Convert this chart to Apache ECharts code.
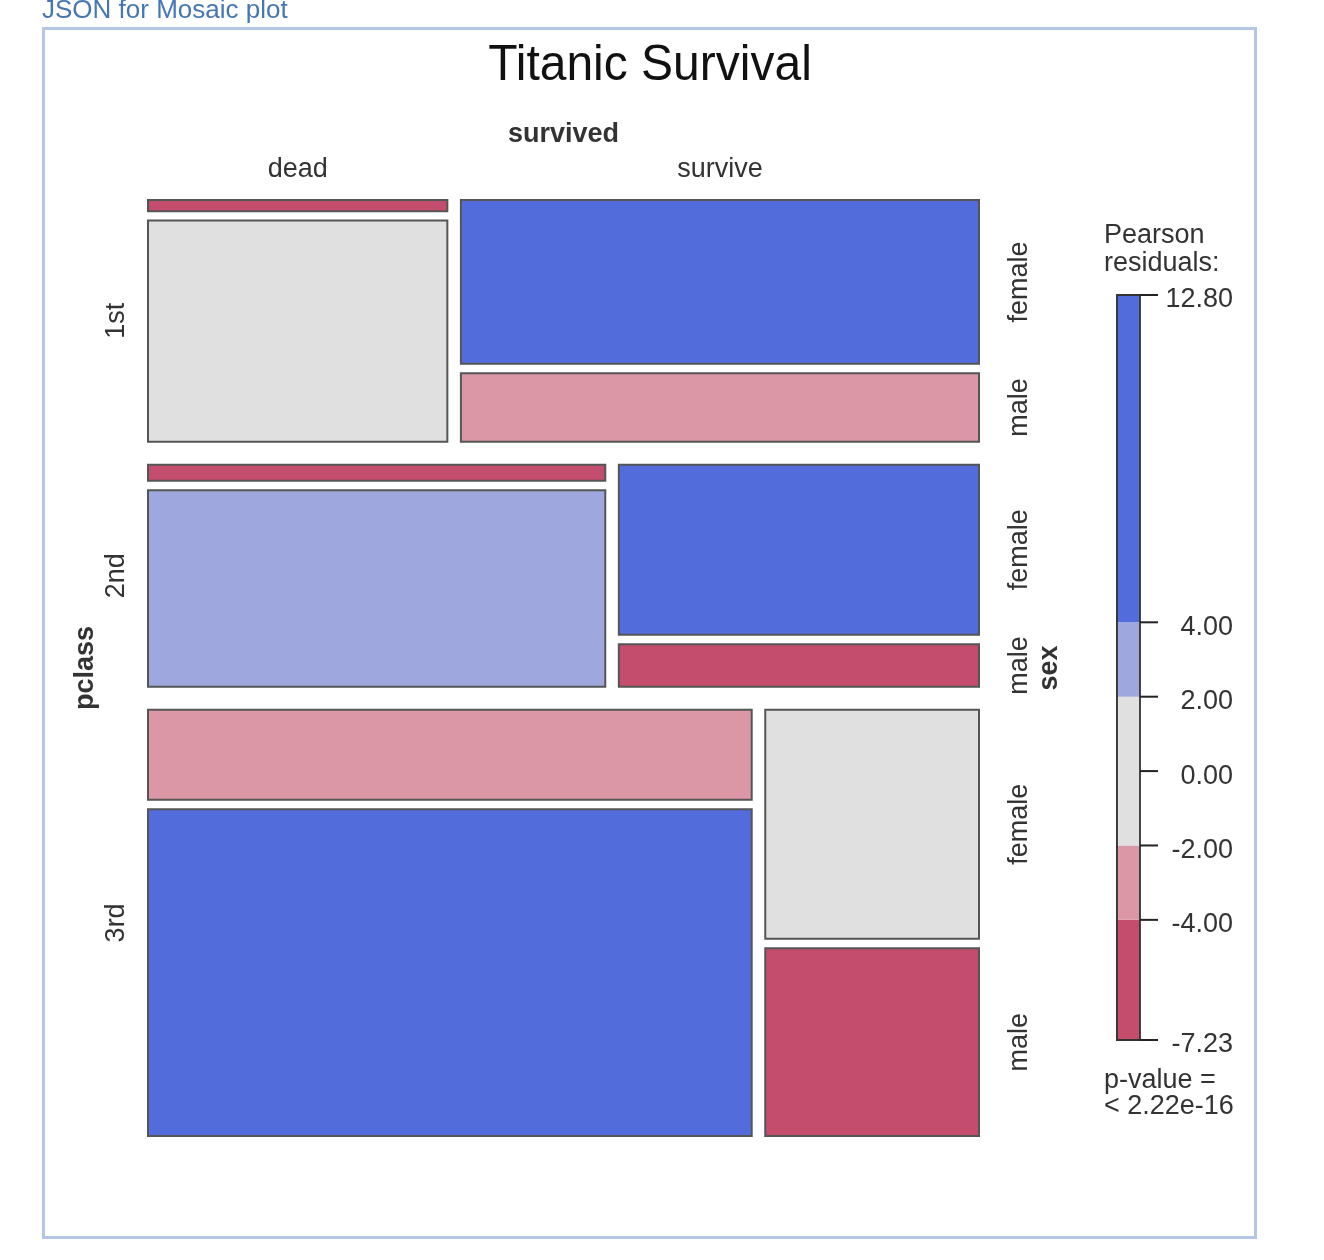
<!DOCTYPE html>
<html>
<head>
<meta charset="utf-8">
<title>Titanic Survival</title>
<script src="https://cdn.jsdelivr.net/npm/echarts@6/dist/echarts.min.js"></script>
<style>
  html, body { margin: 0; padding: 0; background: #fff; }
  #main { width: 1324px; height: 1260px; }
</style>
</head>
<body>
<div id="main"></div>
<script>
var pclass = ['1st', '2nd', '3rd']
var survived = ['dead', 'survive']
var sex = ['female', 'male']

// passengers per class: [dead, survive] -> [female, male]
var countsFirst = [[5, 99], [127, 53]]
var countsSecond = [[11, 135], [92, 23]]
var countsThird = [[80, 290], [72, 59]]

// pearson residuals, same layout as the counts
var residFirst = [[-7.23, -0.75], [12.80, -2.33]]
var residSecond = [[-6.12, 3.84], [8.35, -5.38]]
var residThird = [[-2.86, 7.58], [-0.44, -6.14]]

var shadeBreaks = [-7.23, -4, -2, 2, 4, 12.80]
var shadeColors = ['#c44c6c', '#db97a5', '#e0e0e0', '#9fa8de', '#526ddb']
var legendTicks = [-7.23, -4, -2, 0, 2, 4, 12.80]

var FONT = '"Liberation Sans", Arial, Helvetica, sans-serif'
var ROW_GAP = 0.0246, COL_GAP = 0.0163, SEX_GAP = 0.0101

function sum(a) { return a.reduce(function (s, v) { return s + v }, 0) }
function shadeColor(r) {
  for (var i = 0; i < shadeColors.length; i++) {
    if (r <= shadeBreaks[i + 1]) return shadeColors[i]
  }
  return shadeColors[shadeColors.length - 1]
}

// mosaic tiles in unit space: [x0, x1, y0, y1, residual]
var counts = [countsFirst, countsSecond, countsThird]
var resid = [residFirst, residSecond, residThird]
var total = sum(counts.map(function (c) { return sum(c[0]) + sum(c[1]) }))
var tiles = [], rowLabels = [], colLabels = [], sexLabels = []
var y = 0
counts.forEach(function (c, i) {
  var nRow = sum(c[0]) + sum(c[1])
  var h = nRow / total * (1 - 2 * ROW_GAP)
  var x = 0
  c.forEach(function (cell, j) {
    var w = sum(cell) / nRow * (1 - COL_GAP)
    var yy = y
    cell.forEach(function (n, k) {
      var hh = n / sum(cell) * (h - SEX_GAP)
      tiles.push([x, x + w, yy, yy + hh, resid[i][j][k]])
      if (j === 1) sexLabels.push([yy + hh / 2, sex[k]])
      yy += hh + SEX_GAP
    })
    if (i === 0) colLabels.push([x + w / 2, survived[j]])
    x += w + COL_GAP
  })
  rowLabels.push([y + h / 2, pclass[i]])
  y += h + ROW_GAP
})

var bands = []
for (var b = 0; b < shadeColors.length; b++) bands.push([shadeBreaks[b], shadeBreaks[b + 1], b])

var chart = echarts.init(document.getElementById('main'))

var option = {
  animation: false,
  grid: [
    { left: 148, top: 200, width: 831, height: 936 },
    { left: 1117, top: 295, width: 23, height: 745 }
  ],
  xAxis: [
    { gridIndex: 0, type: 'value', min: 0, max: 1, show: false },
    { gridIndex: 1, type: 'value', min: 0, max: 1, show: false }
  ],
  yAxis: [
    { gridIndex: 0, type: 'value', min: 0, max: 1, inverse: true, show: false },
    {
      gridIndex: 1, type: 'value', position: 'right',
      min: shadeBreaks[0], max: shadeBreaks[shadeBreaks.length - 1],
      axisLine: { show: true, lineStyle: { color: '#333', width: 1.5 } },
      axisTick: { show: false },
      axisLabel: { show: false },
      splitLine: { show: false }
    }
  ],
  series: [
    {
      type: 'custom',
      xAxisIndex: 0, yAxisIndex: 0,
      data: tiles,
      encode: { x: [0, 1], y: [2, 3] },
      renderItem: function (params, api) {
        var p0 = api.coord([api.value(0), api.value(2)])
        var p1 = api.coord([api.value(1), api.value(3)])
        return {
          type: 'rect',
          shape: { x: p0[0], y: p0[1], width: p1[0] - p0[0], height: p1[1] - p0[1] },
          style: { fill: shadeColor(api.value(4)), stroke: '#555', lineWidth: 2 }
        }
      }
    },
    {
      type: 'custom',
      xAxisIndex: 1, yAxisIndex: 1,
      data: bands,
      encode: { y: [0, 1] },
      renderItem: function (params, api) {
        var p0 = api.coord([0, api.value(1)])
        var p1 = api.coord([1, api.value(0)])
        return {
          type: 'rect',
          shape: { x: p0[0], y: p0[1], width: p1[0] - p0[0], height: p1[1] - p0[1] },
          style: { fill: shadeColors[api.value(2)] }
        }
      }
    },
    {
      // outline of the colour bar
      type: 'custom',
      xAxisIndex: 1, yAxisIndex: 1,
      data: [[shadeBreaks[0], shadeBreaks[shadeBreaks.length - 1]]],
      renderItem: function (params, api) {
        var p0 = api.coord([0, api.value(1)])
        var p1 = api.coord([1, api.value(0)])
        return {
          type: 'rect',
          shape: { x: p0[0], y: p0[1], width: p1[0] - p0[0], height: p1[1] - p0[1] },
          style: { fill: null, stroke: '#333', lineWidth: 1.8 }
        }
      }
    },
    {
      // tick marks and values next to the colour bar
      type: 'custom',
      xAxisIndex: 1, yAxisIndex: 1,
      data: legendTicks.map(function (v) { return [v] }),
      encode: { y: 0 },
      renderItem: function (params, api) {
        var v = api.value(0)
        var p = api.coord([1, v])
        return {
          type: 'group',
          children: [
            {
              type: 'line',
              shape: { x1: p[0], y1: p[1], x2: p[0] + 18, y2: p[1] },
              style: { stroke: '#222', lineWidth: 2 }
            },
            {
              type: 'text',
              x: p[0] + 93, y: p[1] + 5,
              style: {
                text: v.toFixed(2), align: 'right', verticalAlign: 'middle',
                font: '27px ' + FONT, fill: '#333'
              }
            }
          ]
        }
      }
    }
  ]
}
chart.setOption(option)

// texts placed from the mosaic's own coordinates
function px(x, y) { return chart.convertToPixel({ gridIndex: 0 }, [x, y]) }
function label(pos, text, opts) {
  opts = opts || {}
  return {
    type: 'text', x: pos[0], y: pos[1],
    rotation: opts.rotate ? Math.PI / 2 : 0,
    scaleY: opts.scaleY || 1,
    style: {
      text: text, align: opts.align || 'center', verticalAlign: 'middle',
      font: (opts.bold ? 'bold ' : '') + (opts.size || 27) + 'px ' + FONT,
      fill: opts.color || '#333'
    }
  }
}

var graphics = []
var topLeft = px(0, 0), botRight = px(1, 1)
var midX = (topLeft[0] + botRight[0]) / 2, midY = (topLeft[1] + botRight[1]) / 2

graphics.push({
  type: 'rect', shape: { x: 43.5, y: 28.5, width: 1212, height: 1209 },
  style: { fill: null, stroke: '#b3c6e6', lineWidth: 3 }
})
graphics.push(label([42, 11], 'JSON for Mosaic plot', { align: 'left', size: 26, color: '#4677b3' }))
graphics.push(label([650, 66], 'Titanic Survival', { size: 48, color: '#111', scaleY: 1.06 }))
graphics.push(label([midX, topLeft[1] - 65], 'survived', { bold: true }))
colLabels.forEach(function (c) { graphics.push(label([px(c[0], 0)[0], topLeft[1] - 30], c[1])) })
rowLabels.forEach(function (r) { graphics.push(label([topLeft[0] - 31, px(0, r[0])[1]], r[1], { rotate: true })) })
graphics.push(label([topLeft[0] - 62, midY], 'pclass', { rotate: true, bold: true }))
sexLabels.forEach(function (s) { graphics.push(label([botRight[0] + 41, px(0, s[0])[1]], s[1], { rotate: true })) })
graphics.push(label([botRight[0] + 71, midY], 'sex', { rotate: true, bold: true }))

graphics.push(label([1104, 236], 'Pearson', { align: 'left' }))
graphics.push(label([1104, 264], 'residuals:', { align: 'left' }))
graphics.push(label([1104, 1081], 'p-value =', { align: 'left' }))
graphics.push(label([1104, 1107], '< 2.22e-16', { align: 'left' }))

chart.setOption({ graphic: { elements: graphics } })
</script>
</body>
</html>
